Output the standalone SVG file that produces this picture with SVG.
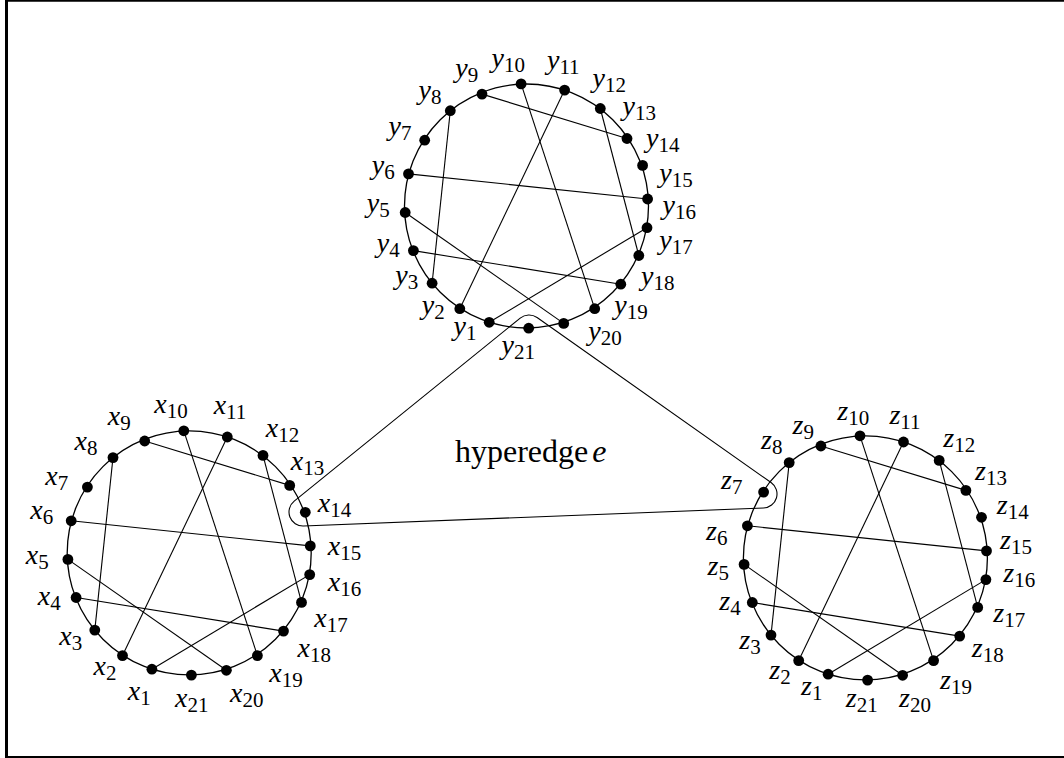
<svg xmlns="http://www.w3.org/2000/svg" width="1064" height="758" viewBox="0 0 1064 758">
<style>
.ring{fill:none;stroke:#000;stroke-width:1.3}
.e{stroke:#000;stroke-width:1.1;fill:none}
.v circle{fill:#000}
.l{font-family:"Liberation Serif",serif;font-style:italic;font-size:28px;text-anchor:middle;fill:#000}
.s{font-style:normal;font-size:21px}
.t{font-family:"Liberation Serif",serif;font-size:32px;fill:#000}
.frame{stroke:#000;fill:none}
</style>
<rect width="1064" height="758" fill="#fff"/>
<g id="frame">
<line class="frame" x1="6.5" y1="0" x2="6.5" y2="758" stroke-width="3"/>
<line class="frame" x1="5" y1="0.8" x2="1064" y2="0.8" stroke-width="1.8"/>
<line class="frame" x1="5" y1="757" x2="1064" y2="757" stroke-width="2"/>
</g>
<g id="connectors">
<circle class="ring" cx="189.2" cy="552.9" r="122"/>
<circle class="ring" cx="526.5" cy="206" r="122"/>
<circle class="ring" cx="865.4" cy="557.9" r="122"/>
<g id="edges-x">
<line class="e" x1="144.7" y1="441.0" x2="289.7" y2="485.4"/>
<line class="e" x1="183.8" y1="430.8" x2="257.4" y2="655.6"/>
<line class="e" x1="227.3" y1="437.0" x2="122.5" y2="655.6"/>
<line class="e" x1="263.0" y1="455.4" x2="301.5" y2="602.4"/>
<line class="e" x1="113.0" y1="457.6" x2="94.8" y2="630.1"/>
<line class="e" x1="71.2" y1="520.8" x2="310.3" y2="545.9"/>
<line class="e" x1="67.9" y1="559.4" x2="226.4" y2="670.3"/>
<line class="e" x1="76.1" y1="597.5" x2="283.5" y2="631.1"/>
<line class="e" x1="151.9" y1="669.2" x2="309.7" y2="574.6"/>
</g>
<g id="edges-y">
<line class="e" x1="482.0" y1="94.1" x2="627.0" y2="138.5"/>
<line class="e" x1="521.1" y1="83.9" x2="594.7" y2="308.7"/>
<line class="e" x1="564.6" y1="90.1" x2="459.8" y2="308.7"/>
<line class="e" x1="600.3" y1="108.5" x2="638.8" y2="255.5"/>
<line class="e" x1="450.3" y1="110.7" x2="432.1" y2="283.2"/>
<line class="e" x1="408.5" y1="173.9" x2="647.6" y2="199.0"/>
<line class="e" x1="405.2" y1="212.5" x2="563.7" y2="323.4"/>
<line class="e" x1="413.4" y1="250.6" x2="620.8" y2="284.2"/>
<line class="e" x1="489.2" y1="322.3" x2="647.0" y2="227.7"/>
</g>
<g id="edges-z">
<line class="e" x1="820.9" y1="446.0" x2="965.9" y2="490.4"/>
<line class="e" x1="860.0" y1="435.8" x2="933.6" y2="660.6"/>
<line class="e" x1="903.5" y1="442.0" x2="798.7" y2="660.6"/>
<line class="e" x1="939.2" y1="460.4" x2="977.7" y2="607.4"/>
<line class="e" x1="789.2" y1="462.6" x2="771.0" y2="635.1"/>
<line class="e" x1="747.4" y1="525.8" x2="986.5" y2="550.9"/>
<line class="e" x1="744.1" y1="564.4" x2="902.6" y2="675.3"/>
<line class="e" x1="752.3" y1="602.5" x2="959.7" y2="636.1"/>
<line class="e" x1="828.1" y1="674.2" x2="985.9" y2="579.6"/>
</g>
<path id="hyperedge" class="e" d="M294.19,501.12 L520.19,318.12 A14,14 0 0 1 537.07,317.56 L771.07,482.56 A14,14 0 0 1 763.55,507.99 L303.55,525.99 A14,14 0 0 1 294.19,501.12 Z"/>
</g>
<g id="label-hyperedge"><text class="t" x="455" y="462">hyperedge<tspan font-style="italic" dx="4">e</tspan></text></g>
<g id="nodes-x" class="v">
<g id="x1"><circle cx="151.9" cy="669.2" r="5.4"/><text class="l" x="139.3" y="700">x<tspan class="s" dy="5">1</tspan></text></g>
<g id="x2"><circle cx="122.5" cy="655.6" r="5.4"/><text class="l" x="105" y="675">x<tspan class="s" dy="5">2</tspan></text></g>
<g id="x3"><circle cx="94.8" cy="630.1" r="5.4"/><text class="l" x="70.7" y="644.5">x<tspan class="s" dy="5">3</tspan></text></g>
<g id="x4"><circle cx="76.1" cy="597.5" r="5.4"/><text class="l" x="49.3" y="604.5">x<tspan class="s" dy="5">4</tspan></text></g>
<g id="x5"><circle cx="67.9" cy="559.4" r="5.4"/><text class="l" x="37.3" y="563.5">x<tspan class="s" dy="5">5</tspan></text></g>
<g id="x6"><circle cx="71.2" cy="520.8" r="5.4"/><text class="l" x="41.7" y="519">x<tspan class="s" dy="5">6</tspan></text></g>
<g id="x7"><circle cx="87.4" cy="487.1" r="5.4"/><text class="l" x="56.7" y="485">x<tspan class="s" dy="5">7</tspan></text></g>
<g id="x8"><circle cx="113.0" cy="457.6" r="5.4"/><text class="l" x="86" y="450">x<tspan class="s" dy="5">8</tspan></text></g>
<g id="x9"><circle cx="144.7" cy="441.0" r="5.4"/><text class="l" x="119.3" y="424.5">x<tspan class="s" dy="5">9</tspan></text></g>
<g id="x10"><circle cx="183.8" cy="430.8" r="5.4"/><text class="l" x="171" y="412.5">x<tspan class="s" dy="5">10</tspan></text></g>
<g id="x11"><circle cx="227.3" cy="437.0" r="5.4"/><text class="l" x="230" y="413.5">x<tspan class="s" dy="5">11</tspan></text></g>
<g id="x12"><circle cx="263.0" cy="455.4" r="5.4"/><text class="l" x="282.5" y="437">x<tspan class="s" dy="5">12</tspan></text></g>
<g id="x13"><circle cx="289.7" cy="485.4" r="5.4"/><text class="l" x="307.5" y="470">x<tspan class="s" dy="5">13</tspan></text></g>
<g id="x14"><circle cx="305.3" cy="512.3" r="5.4"/><text class="l" x="334.5" y="512">x<tspan class="s" dy="5">14</tspan></text></g>
<g id="x15"><circle cx="310.3" cy="545.9" r="5.4"/><text class="l" x="344.5" y="555">x<tspan class="s" dy="5">15</tspan></text></g>
<g id="x16"><circle cx="309.7" cy="574.6" r="5.4"/><text class="l" x="344.5" y="591">x<tspan class="s" dy="5">16</tspan></text></g>
<g id="x17"><circle cx="301.5" cy="602.4" r="5.4"/><text class="l" x="331" y="627">x<tspan class="s" dy="5">17</tspan></text></g>
<g id="x18"><circle cx="283.5" cy="631.1" r="5.4"/><text class="l" x="314.3" y="657">x<tspan class="s" dy="5">18</tspan></text></g>
<g id="x19"><circle cx="257.4" cy="655.6" r="5.4"/><text class="l" x="286" y="682">x<tspan class="s" dy="5">19</tspan></text></g>
<g id="x20"><circle cx="226.4" cy="670.3" r="5.4"/><text class="l" x="246.7" y="702">x<tspan class="s" dy="5">20</tspan></text></g>
<g id="x21"><circle cx="191.4" cy="675.1" r="5.4"/><text class="l" x="191.7" y="707">x<tspan class="s" dy="5">21</tspan></text></g>
</g>
<g id="nodes-y" class="v">
<g id="y1"><circle cx="489.2" cy="322.3" r="5.4"/><text class="l" x="465" y="335">y<tspan class="s" dy="5">1</tspan></text></g>
<g id="y2"><circle cx="459.8" cy="308.7" r="5.4"/><text class="l" x="433.3" y="313.5">y<tspan class="s" dy="5">2</tspan></text></g>
<g id="y3"><circle cx="432.1" cy="283.2" r="5.4"/><text class="l" x="406.7" y="283.5">y<tspan class="s" dy="5">3</tspan></text></g>
<g id="y4"><circle cx="413.4" cy="250.6" r="5.4"/><text class="l" x="388.3" y="252">y<tspan class="s" dy="5">4</tspan></text></g>
<g id="y5"><circle cx="405.2" cy="212.5" r="5.4"/><text class="l" x="378.3" y="212">y<tspan class="s" dy="5">5</tspan></text></g>
<g id="y6"><circle cx="408.5" cy="173.9" r="5.4"/><text class="l" x="383.3" y="173.5">y<tspan class="s" dy="5">6</tspan></text></g>
<g id="y7"><circle cx="424.7" cy="140.2" r="5.4"/><text class="l" x="400" y="135">y<tspan class="s" dy="5">7</tspan></text></g>
<g id="y8"><circle cx="450.3" cy="110.7" r="5.4"/><text class="l" x="430" y="98.5">y<tspan class="s" dy="5">8</tspan></text></g>
<g id="y9"><circle cx="482.0" cy="94.1" r="5.4"/><text class="l" x="466.7" y="77">y<tspan class="s" dy="5">9</tspan></text></g>
<g id="y10"><circle cx="521.1" cy="83.9" r="5.4"/><text class="l" x="508.3" y="67">y<tspan class="s" dy="5">10</tspan></text></g>
<g id="y11"><circle cx="564.6" cy="90.1" r="5.4"/><text class="l" x="563.3" y="68.5">y<tspan class="s" dy="5">11</tspan></text></g>
<g id="y12"><circle cx="600.3" cy="108.5" r="5.4"/><text class="l" x="609.3" y="87">y<tspan class="s" dy="5">12</tspan></text></g>
<g id="y13"><circle cx="627.0" cy="138.5" r="5.4"/><text class="l" x="639.3" y="115">y<tspan class="s" dy="5">13</tspan></text></g>
<g id="y14"><circle cx="642.6" cy="165.4" r="5.4"/><text class="l" x="662.7" y="147">y<tspan class="s" dy="5">14</tspan></text></g>
<g id="y15"><circle cx="647.6" cy="199.0" r="5.4"/><text class="l" x="676" y="182">y<tspan class="s" dy="5">15</tspan></text></g>
<g id="y16"><circle cx="647.0" cy="227.7" r="5.4"/><text class="l" x="679.3" y="213.5">y<tspan class="s" dy="5">16</tspan></text></g>
<g id="y17"><circle cx="638.8" cy="255.5" r="5.4"/><text class="l" x="676" y="248.5">y<tspan class="s" dy="5">17</tspan></text></g>
<g id="y18"><circle cx="620.8" cy="284.2" r="5.4"/><text class="l" x="657.7" y="285">y<tspan class="s" dy="5">18</tspan></text></g>
<g id="y19"><circle cx="594.7" cy="308.7" r="5.4"/><text class="l" x="631" y="313.5">y<tspan class="s" dy="5">19</tspan></text></g>
<g id="y20"><circle cx="563.7" cy="323.4" r="5.4"/><text class="l" x="605" y="340">y<tspan class="s" dy="5">20</tspan></text></g>
<g id="y21"><circle cx="528.7" cy="328.2" r="5.4"/><text class="l" x="518.3" y="353.5">y<tspan class="s" dy="5">21</tspan></text></g>
</g>
<g id="nodes-z" class="v">
<g id="z1"><circle cx="828.1" cy="674.2" r="5.4"/><text class="l" x="811.7" y="695">z<tspan class="s" dy="5">1</tspan></text></g>
<g id="z2"><circle cx="798.7" cy="660.6" r="5.4"/><text class="l" x="780" y="678.5">z<tspan class="s" dy="5">2</tspan></text></g>
<g id="z3"><circle cx="771.0" cy="635.1" r="5.4"/><text class="l" x="750" y="648.5">z<tspan class="s" dy="5">3</tspan></text></g>
<g id="z4"><circle cx="752.3" cy="602.5" r="5.4"/><text class="l" x="730" y="610">z<tspan class="s" dy="5">4</tspan></text></g>
<g id="z5"><circle cx="744.1" cy="564.4" r="5.4"/><text class="l" x="718.3" y="575">z<tspan class="s" dy="5">5</tspan></text></g>
<g id="z6"><circle cx="747.4" cy="525.8" r="5.4"/><text class="l" x="716.7" y="540">z<tspan class="s" dy="5">6</tspan></text></g>
<g id="z7"><circle cx="763.6" cy="492.1" r="5.4"/><text class="l" x="731.7" y="488.5">z<tspan class="s" dy="5">7</tspan></text></g>
<g id="z8"><circle cx="789.2" cy="462.6" r="5.4"/><text class="l" x="771.7" y="448.5">z<tspan class="s" dy="5">8</tspan></text></g>
<g id="z9"><circle cx="820.9" cy="446.0" r="5.4"/><text class="l" x="803.3" y="433.5">z<tspan class="s" dy="5">9</tspan></text></g>
<g id="z10"><circle cx="860.0" cy="435.8" r="5.4"/><text class="l" x="853.3" y="420">z<tspan class="s" dy="5">10</tspan></text></g>
<g id="z11"><circle cx="903.5" cy="442.0" r="5.4"/><text class="l" x="905" y="423.5">z<tspan class="s" dy="5">11</tspan></text></g>
<g id="z12"><circle cx="939.2" cy="460.4" r="5.4"/><text class="l" x="959.3" y="447">z<tspan class="s" dy="5">12</tspan></text></g>
<g id="z13"><circle cx="965.9" cy="490.4" r="5.4"/><text class="l" x="991" y="480">z<tspan class="s" dy="5">13</tspan></text></g>
<g id="z14"><circle cx="981.5" cy="517.3" r="5.4"/><text class="l" x="1012.7" y="513.5">z<tspan class="s" dy="5">14</tspan></text></g>
<g id="z15"><circle cx="986.5" cy="550.9" r="5.4"/><text class="l" x="1016" y="548.5">z<tspan class="s" dy="5">15</tspan></text></g>
<g id="z16"><circle cx="985.9" cy="579.6" r="5.4"/><text class="l" x="1019.3" y="582">z<tspan class="s" dy="5">16</tspan></text></g>
<g id="z17"><circle cx="977.7" cy="607.4" r="5.4"/><text class="l" x="1009.3" y="622">z<tspan class="s" dy="5">17</tspan></text></g>
<g id="z18"><circle cx="959.7" cy="636.1" r="5.4"/><text class="l" x="987.7" y="657">z<tspan class="s" dy="5">18</tspan></text></g>
<g id="z19"><circle cx="933.6" cy="660.6" r="5.4"/><text class="l" x="956" y="688.5">z<tspan class="s" dy="5">19</tspan></text></g>
<g id="z20"><circle cx="902.6" cy="675.3" r="5.4"/><text class="l" x="915" y="707">z<tspan class="s" dy="5">20</tspan></text></g>
<g id="z21"><circle cx="867.6" cy="680.1" r="5.4"/><text class="l" x="861.7" y="707">z<tspan class="s" dy="5">21</tspan></text></g>
</g>
</svg>
